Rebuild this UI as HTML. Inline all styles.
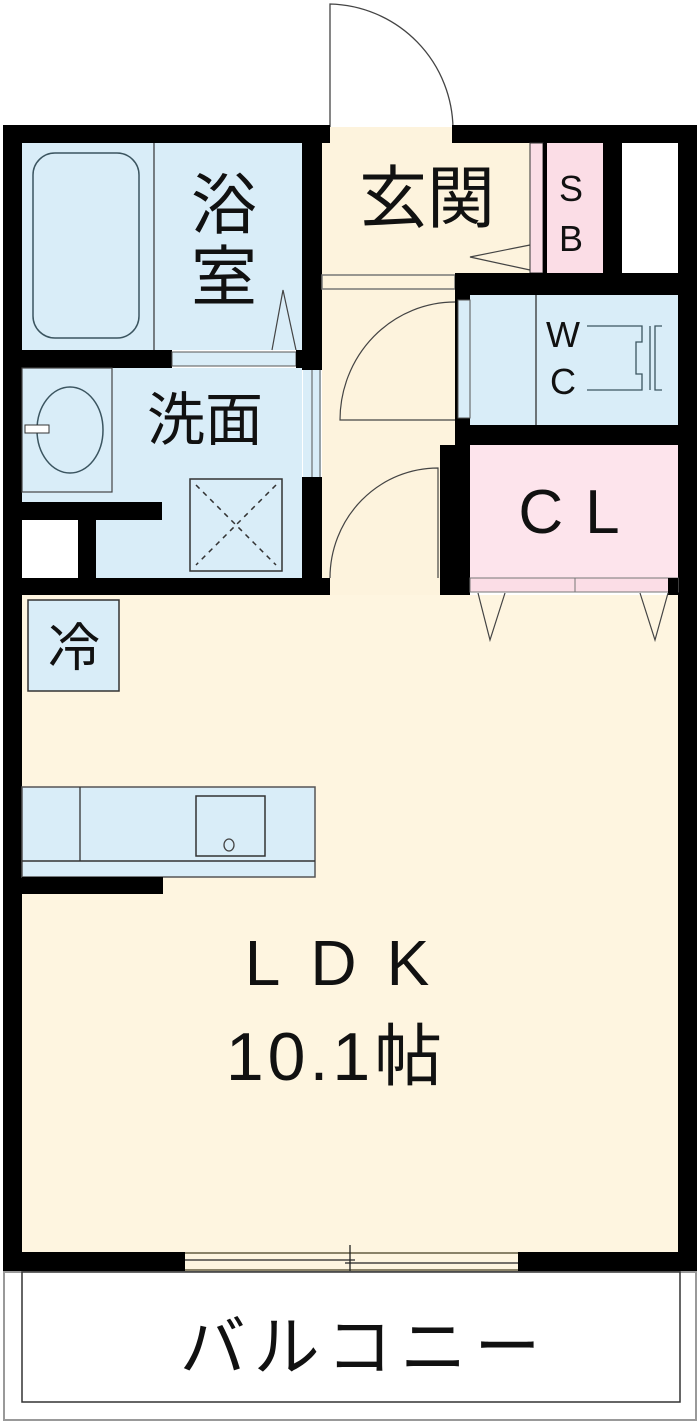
<!DOCTYPE html>
<html><head><meta charset="utf-8">
<style>
html,body{margin:0;padding:0;background:#fff;}
svg{display:block;}
text{font-family:"Liberation Sans","Noto Sans CJK JP",sans-serif;fill:#111;}
</style></head>
<body>
<svg width="700" height="1424" viewBox="0 0 700 1424" xmlns="http://www.w3.org/2000/svg">
<!-- floors -->
<rect x="22" y="143" width="280" height="207" fill="#d9edf8"/>
<rect x="22" y="368" width="280" height="210" fill="#d9edf8"/>
<rect x="322" y="143" width="208" height="130" fill="#fdf3dd"/>
<rect x="322" y="273" width="133" height="322" fill="#fdf3dd"/>
<rect x="530" y="143" width="73" height="130" fill="#fbdde6"/>
<rect x="622" y="143" width="56" height="130" fill="#fff"/>
<rect x="470" y="295" width="210" height="130" fill="#d9edf8"/>
<rect x="470" y="445" width="210" height="133" fill="#fde4ec"/>
<rect x="22" y="595" width="658" height="657" fill="#fef5e0"/>

<!-- door swing outside -->
<path d="M330 130 L330 4 A126 126 0 0 1 453 130" fill="none" stroke="#444" stroke-width="1.3"/>
<rect x="330" y="127" width="122" height="16" fill="#fdf3dd"/>

<!-- outer walls -->
<rect x="3" y="125" width="327" height="18" fill="#000"/>
<rect x="452" y="125" width="245" height="18" fill="#000"/>
<rect x="3" y="125" width="19" height="1147" fill="#000"/>
<rect x="678" y="125" width="19" height="1147" fill="#000"/>

<!-- bath -->
<rect x="33" y="153" width="106" height="185" rx="22" fill="#d9edf8" stroke="#3b5560" stroke-width="1.5"/>
<line x1="154" y1="143" x2="154" y2="350" stroke="#333" stroke-width="1.2"/>
<text x="224" y="228" font-size="66" text-anchor="middle">浴</text>
<text x="224" y="300" font-size="66" text-anchor="middle">室</text>
<path d="M272 350 L283 290 L296 350" fill="none" stroke="#444" stroke-width="1.2"/>
<rect x="22" y="350" width="150" height="18" fill="#000"/>
<rect x="172" y="352" width="124" height="14" fill="#d9edf8" stroke="#555" stroke-width="1"/>
<rect x="296" y="350" width="6" height="18" fill="#000"/>
<!-- bath right wall -->
<rect x="302" y="143" width="20" height="227" fill="#000"/>
<rect x="303" y="370" width="18" height="107" fill="#d9edf8"/>
<line x1="312" y1="370" x2="312" y2="477" stroke="#555" stroke-width="1"/>
<line x1="320" y1="370" x2="320" y2="477" stroke="#555" stroke-width="1"/>
<rect x="302" y="477" width="20" height="118" fill="#000"/>

<!-- wash -->
<rect x="22" y="368" width="90" height="124" fill="#d9edf8" stroke="#444" stroke-width="1.2"/>
<ellipse cx="70" cy="430" rx="33" ry="43" fill="none" stroke="#3b5560" stroke-width="1.5"/>
<rect x="25" y="425" width="24" height="8" fill="#fff" stroke="#333" stroke-width="1"/>
<text x="205" y="440" font-size="58" text-anchor="middle">洗面</text>
<rect x="190" y="479" width="92" height="92" fill="#d9edf8" stroke="#333" stroke-width="1.5"/>
<path d="M196 485 L276 565 M276 485 L196 565" stroke="#333" stroke-width="1.5" stroke-dasharray="5 5"/>
<rect x="22" y="502" width="140" height="18" fill="#000"/>
<rect x="22" y="520" width="56" height="58" fill="#fff"/>
<rect x="78" y="520" width="18" height="58" fill="#000"/>
<rect x="96" y="520" width="66" height="58" fill="#d9edf8"/>
<rect x="3" y="578" width="327" height="17" fill="#000"/>

<!-- entrance -->
<text x="427" y="222" font-size="68" text-anchor="middle">玄関</text>
<path d="M530 245 L470 257 L530 270" fill="none" stroke="#444" stroke-width="1.2"/>
<rect x="322" y="275" width="133" height="14" fill="#fdf3dd" stroke="#777" stroke-width="1.5"/>
<rect x="530" y="143" width="13" height="130" fill="#fbdde6" stroke="#333" stroke-width="1"/>
<rect x="543" y="143" width="4" height="130" fill="#000"/>
<text x="571" y="201" font-size="36" text-anchor="middle">S</text>
<text x="571" y="251" font-size="36" text-anchor="middle">B</text>
<rect x="603" y="143" width="19" height="130" fill="#000"/>
<rect x="455" y="273" width="242" height="22" fill="#000"/>

<!-- corridor doors -->
<path d="M455 302 A115 118 0 0 0 340 420 L455 420" fill="none" stroke="#444" stroke-width="1.2"/>
<path d="M438 578 L438 468 A108 110 0 0 0 330 578" fill="none" stroke="#444" stroke-width="1.2"/>

<!-- WC -->
<rect x="455" y="295" width="15" height="150" fill="#000"/>
<rect x="458" y="300" width="12" height="118" fill="#d9edf8" stroke="#555" stroke-width="1"/>
<line x1="536" y1="295" x2="536" y2="425" stroke="#333" stroke-width="1.3"/>
<text x="563" y="347" font-size="36" text-anchor="middle">W</text>
<text x="563" y="394" font-size="36" text-anchor="middle">C</text>
<path d="M587 326 L642 326 L642 342 L636 342 L636 374 L642 374 L642 390 L587 390" fill="#d9edf8" stroke="#3b5560" stroke-width="1.3"/>
<line x1="650" y1="326" x2="650" y2="390" stroke="#3b5560" stroke-width="1.3"/>
<path d="M662 326 L655 326 L655 390 L662 390" fill="none" stroke="#3b5560" stroke-width="1.3"/>
<rect x="455" y="425" width="242" height="20" fill="#000"/>

<!-- CL -->
<text x="580" y="533" font-size="62" text-anchor="middle" letter-spacing="22">CL</text>
<rect x="440" y="445" width="30" height="150" fill="#000"/>
<rect x="470" y="578" width="208" height="14" fill="#fbdde6" stroke="#777" stroke-width="1"/>
<line x1="575" y1="578" x2="575" y2="592" stroke="#777" stroke-width="1"/>
<rect x="668" y="578" width="10" height="17" fill="#000"/>
<path d="M478 593 L490 640 L505 593 M640 593 L655 640 L668 593" fill="none" stroke="#444" stroke-width="1.2"/>

<!-- LDK -->
<rect x="28" y="600" width="91" height="91" fill="#d9edf8" stroke="#333" stroke-width="1.5"/>
<text x="74" y="666" font-size="52" text-anchor="middle">冷</text>
<rect x="22" y="787" width="293" height="90" fill="#d9edf8" stroke="#555" stroke-width="1.5"/>
<line x1="22" y1="861" x2="315" y2="861" stroke="#333" stroke-width="1.5"/>
<line x1="80" y1="787" x2="80" y2="861" stroke="#333" stroke-width="1.3"/>
<rect x="196" y="796" width="69" height="60" fill="none" stroke="#333" stroke-width="1.5"/>
<ellipse cx="229" cy="845" rx="5" ry="6" fill="none" stroke="#444" stroke-width="1.3"/>
<rect x="22" y="877" width="141" height="17" fill="#000"/>
<text x="352" y="985" font-size="64" text-anchor="middle" letter-spacing="30">LDK</text>
<text x="336" y="1080" font-size="68" text-anchor="middle" letter-spacing="4">10.1帖</text>

<!-- bottom wall & window -->
<rect x="3" y="1252" width="182" height="20" fill="#000"/>
<rect x="518" y="1252" width="179" height="20" fill="#000"/>
<rect x="185" y="1252" width="333" height="20" fill="#fef5e0"/>
<line x1="185" y1="1253" x2="518" y2="1253" stroke="#8a8268" stroke-width="2"/>
<line x1="185" y1="1260" x2="355" y2="1260" stroke="#222" stroke-width="1.2"/>
<line x1="345" y1="1263" x2="518" y2="1263" stroke="#222" stroke-width="1.2"/>
<line x1="185" y1="1270" x2="518" y2="1270" stroke="#8a8268" stroke-width="2"/>
<line x1="350" y1="1245" x2="350" y2="1278" stroke="#222" stroke-width="1.3"/>

<!-- balcony -->
<rect x="4" y="1272" width="692" height="148" fill="none" stroke="#999" stroke-width="2"/>
<rect x="22" y="1272" width="658" height="130" fill="#fff" stroke="#333" stroke-width="1.5"/>
<text x="364" y="1370" font-size="66" text-anchor="middle" letter-spacing="8">バルコニー</text>
</svg>
</body></html>
